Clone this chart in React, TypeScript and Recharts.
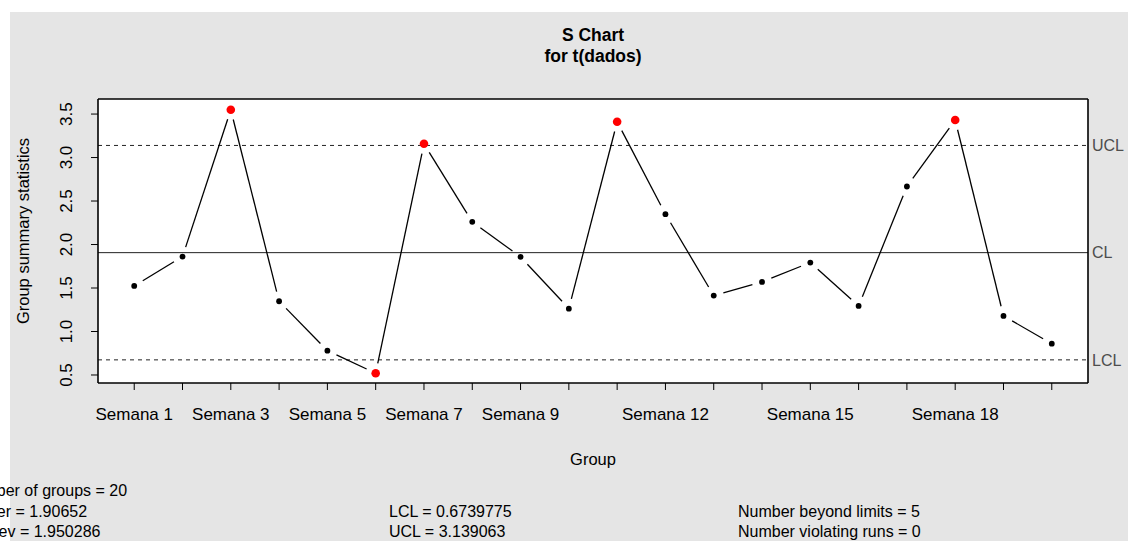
import React from "react";
import { LineChart, Line, XAxis, YAxis, CartesianGrid, ReferenceLine } from "recharts";

// S chart of weekly groups (qcc style): 20 groups, limits from the footer stats
const GROUPS = [1, 2, 3, 4, 5, 6, 7, 8, 9, 10, 11, 12, 13, 14, 15, 16, 17, 18, 19, 20];
const STDEVS = [
  1.524, 1.861, 3.549, 1.348, 0.78, 0.52, 3.158, 2.261, 1.858, 1.263,
  3.411, 2.349, 1.413, 1.57, 1.793, 1.294, 2.667, 3.431, 1.179, 0.86,
];
const LABELED_GROUPS = [1, 3, 5, 7, 9, 12, 15, 18];
const Y_TICKS = [0.5, 1, 1.5, 2, 2.5, 3, 3.5];
const CL = 1.90652;
const LCL = 0.6739775;
const UCL = 3.139063;
const FOOTER_COL1 = ["Number of groups = 20", "Center = 1.90652", "StdDev = 1.950286"];
const FOOTER_COL2 = ["", "LCL = 0.6739775", "UCL = 3.139063"];
const FOOTER_COL3 = ["", "Number beyond limits = 5", "Number violating runs = 0"];

const data = GROUPS.map((g, i) => ({ g, s: STDEVS[i] }));

const X_DOMAIN: [number, number] = [0.25, 20.75];
const Y_DOMAIN: [number, number] = [0.408, 3.673];
const GAP = 10; // R type="b": segments stop short of the points

function GapDot(props: any) {
  const { cx, cy, index, points, payload } = props;
  const next = points && points[index + 1];
  let seg = null;
  if (next && cx != null && cy != null) {
    const dx = next.x - cx;
    const dy = next.y - cy;
    const len = Math.hypot(dx, dy);
    if (len > 2 * GAP) {
      const ux = dx / len;
      const uy = dy / len;
      seg = (
        <line
          x1={cx + ux * GAP}
          y1={cy + uy * GAP}
          x2={next.x - ux * GAP}
          y2={next.y - uy * GAP}
          stroke="#000"
          strokeWidth={1.3}
        />
      );
    }
  }
  const out = payload.s > UCL || payload.s < LCL;
  return (
    <g key={`d${index}`}>
      {seg}
      <circle cx={cx} cy={cy} r={out ? 4.3 : 2.9} fill={out ? "#ff0000" : "#000"} />
    </g>
  );
}

function XTick(props: any) {
  const { x, y, payload } = props;
  if (!LABELED_GROUPS.includes(payload.value)) return <g />;
  return (
    <text x={x} y={y} dy={28} textAnchor="middle" fontSize={17} fill="#000">
      {`Semana ${payload.value}`}
    </text>
  );
}

function YTick(props: any) {
  const { x, y, payload } = props;
  const bx = x - 17;
  return (
    <text
      x={bx}
      y={y}
      transform={`rotate(-90 ${bx} ${y})`}
      textAnchor="middle"
      fontSize={17}
      fill="#000"
    >
      {String(payload.value.toFixed(1))}
    </text>
  );
}

const limitLabel = (value: string) => ({
  value,
  position: "right" as const,
  offset: 4,
  fill: "#4d4d4d",
  fontSize: 16,
});

const boxLine = { stroke: "#000", strokeWidth: 1.6 };

export default function App() {
  return (
    <div
      style={{
        position: "relative",
        width: 1128,
        height: 541,
        overflow: "hidden",
        background: "#fff",
        fontFamily: "'Liberation Sans', Arial, sans-serif",
      }}
    >
      <style>{"body{margin:0}"}</style>
      <div
        style={{ position: "absolute", left: 10, top: 12, width: 1118, height: 529, background: "#e5e5e5" }}
      />
      <div style={{ position: "absolute", left: 0, top: 0 }}>
        <LineChart width={1128} height={541} data={data} margin={{ top: 98, right: 39, bottom: 128, left: 38 }}>
          <CartesianGrid fill="#fff" stroke="none" />
          <XAxis
            dataKey="g"
            type="number"
            domain={X_DOMAIN}
            ticks={GROUPS}
            interval={0}
            allowDataOverflow
            height={30}
            tickSize={7}
            tickMargin={2}
            tick={<XTick />}
            axisLine={boxLine}
            tickLine={{ stroke: "#000" }}
          />
          <XAxis
            xAxisId="top"
            dataKey="g"
            orientation="top"
            type="number"
            domain={X_DOMAIN}
            ticks={GROUPS}
            allowDataOverflow
            height={1}
            tick={false}
            tickLine={false}
            axisLine={boxLine}
          />
          <YAxis
            type="number"
            domain={Y_DOMAIN}
            ticks={Y_TICKS}
            interval={0}
            allowDataOverflow
            width={60}
            tickSize={7}
            tickMargin={2}
            tick={<YTick />}
            axisLine={boxLine}
            tickLine={{ stroke: "#000" }}
          />
          <YAxis
            yAxisId="right"
            orientation="right"
            type="number"
            domain={Y_DOMAIN}
            ticks={Y_TICKS}
            allowDataOverflow
            width={1}
            tick={false}
            tickLine={false}
            axisLine={boxLine}
          />
          <ReferenceLine y={UCL} stroke="#222" strokeDasharray="4 4" label={limitLabel("UCL")} />
          <ReferenceLine y={CL} stroke="#222" label={limitLabel("CL")} />
          <ReferenceLine y={LCL} stroke="#222" strokeDasharray="4 4" label={limitLabel("LCL")} />
          <Line
            dataKey="s"
            stroke="none"
            dot={<GapDot />}
            activeDot={false}
            isAnimationActive={false}
          />
        </LineChart>
      </div>
      <svg
        width={1128}
        height={541}
        style={{ position: "absolute", left: 0, top: 0, pointerEvents: "none" }}
      >
        <text x={593} y={41} textAnchor="middle" fontWeight="bold" fontSize={17.5}>S Chart</text>
        <text x={593} y={62} textAnchor="middle" fontWeight="bold" fontSize={17.5}>for t(dados)</text>
        <text x={593} y={465} textAnchor="middle" fontSize={16.5}>Group</text>
        <text x={29} y={231} transform="rotate(-90 29 231)" textAnchor="middle" fontSize={16.5}>
          Group summary statistics
        </text>
        {FOOTER_COL1.map((t, i) => (
          <text key={`a${i}`} x={-37} y={496 + i * 20.5} fontSize={16}>{t}</text>
        ))}
        {FOOTER_COL2.map((t, i) => (
          <text key={`b${i}`} x={389} y={496 + i * 20.5} fontSize={16}>{t}</text>
        ))}
        {FOOTER_COL3.map((t, i) => (
          <text key={`c${i}`} x={738} y={496 + i * 20.5} fontSize={16}>{t}</text>
        ))}
      </svg>
    </div>
  );
}
